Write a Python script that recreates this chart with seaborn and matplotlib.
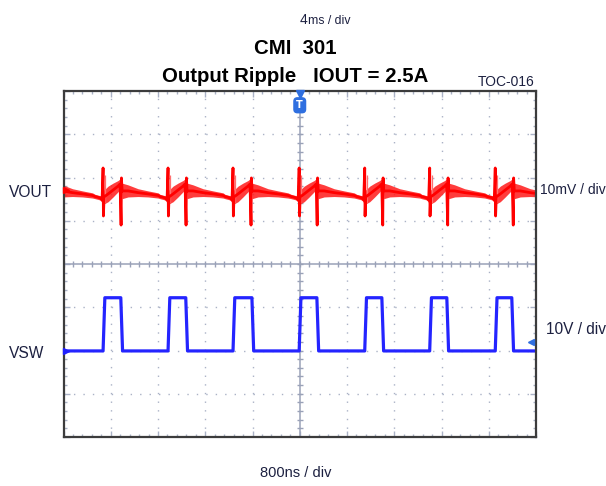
import numpy as np
import matplotlib
matplotlib.use("Agg")
import matplotlib.pyplot as plt
import seaborn as sns
from matplotlib import font_manager

# ---------------- data ----------------
TIME_PER_DIV_US = 0.8          # 800 ns / div
N_XDIV, N_YDIV = 10, 8

# switch node (VSW) edges, in microseconds from the left edge of the screen
VSW_RISE_US = [-0.44, 0.67, 1.77, 2.87, 3.99, 5.10, 6.20, 7.31]
VSW_FALL_US = [-0.13, 0.97, 2.07, 3.19, 4.29, 5.39, 6.49, 7.59]
VSW_LOW_V = 0.0
VSW_HIGH_V = 12.3
VSW_EDGE_US = 0.03
VSW_V_PER_DIV = 10.0
VSW_OFFSET_DIV = -2.01
TRIG_LEVEL_V = 2.0
TRIG_POS_US = 4.0

# output ripple (VOUT, AC) : one switching period relative to each rising edge
VOUT_MV_PER_DIV = 10.0
VOUT_OFFSET_DIV = 1.70
VOUT_OFFS_US = [-0.135, -0.051, -0.017, 0.000, 0.006, 0.017, 0.085, 0.169,
                0.254, 0.288, 0.305, 0.311, 0.322, 0.423, 0.593, 0.762, 0.931]
VOUT_MV = [-1.4, -1.7, -2.2, 5.2, -5.9, -1.5, -0.8, 0.1,
           1.0, 1.5, -8.0, 2.9, -0.1, -0.1, -0.5, -0.8, -1.15]
VOUT_NOISE_MV = [0.5, 0.5, 0.6, 0.0, 0.0, 1.6, 1.8, 1.6,
                 1.3, 1.2, 0.0, 0.0, 1.8, 1.4, 0.9, 0.7, 0.6]
# secondary (fainter) spike right after each rising edge
VOUT_SPIKE2_US = 0.035
VOUT_SPIKE2_MV = [3.6, -3.0]

TITLE_1 = "CMI  301"
TITLE_2 = "Output Ripple   IOUT = 2.5A"
TAG = "TOC-016"
CH1_NAME, CH1_SCALE = "VOUT", "10mV / div"
CH2_NAME, CH2_SCALE = "VSW", "10V / div"
TIMEBASE = "800ns / div"
TOP_SCALE_NUM, TOP_SCALE_UNIT = "4", "ms / div"

# ---------------- style ----------------
sns.set_theme(style="white")
W, H = 606, 486
fig = plt.figure(figsize=(W / 100, H / 100), dpi=100)
fig.patch.set_facecolor("white")

names = {f.name for f in font_manager.fontManager.ttflist}
if "Liberation Sans Narrow" in names:
    NARROW, NSCALE = "Liberation Sans Narrow", 1.0
else:
    NARROW, NSCALE = "Liberation Sans", 0.84
plt.rcParams["font.family"] = [NARROW, "DejaVu Sans"]

L, R, T, B = 63.5, 536.0, 91.0, 437.0
ax = fig.add_axes([L / W, 1 - B / H, (R - L) / W, (B - T) / H])
xmax = N_XDIV * TIME_PER_DIV_US
ax.set_xlim(0, xmax)
ax.set_ylim(-N_YDIV / 2, N_YDIV / 2)
ax.set_facecolor("white")

GRID = "#aab2c6"
CENTER = "#9aa2b8"
# dotted graticule
xdot_pt = (R - L) / N_XDIV / 5 * 0.72
ydot_pt = (B - T) / N_YDIV / 5 * 0.72
for k in range(1, N_XDIV):
    if k == N_XDIV // 2:
        continue
    ax.axvline(k * TIME_PER_DIV_US, color=GRID, lw=1.0,
               linestyle=(0, (1.0, ydot_pt - 1.0)), dash_capstyle="butt", zorder=1)
for k in range(-N_YDIV // 2 + 1, N_YDIV // 2):
    if k == 0:
        continue
    ax.axhline(k, color=GRID, lw=1.0,
               linestyle=(0, (1.0, xdot_pt - 1.0)), dash_capstyle="butt", zorder=1)
# centre cross with sub-division ticks
ax.axvline(xmax / 2, color=CENTER, lw=1.1, zorder=1)
ax.axhline(0, color=CENTER, lw=1.1, zorder=1)
ax.plot(np.full(N_YDIV * 5 + 1, xmax / 2), np.linspace(-N_YDIV / 2, N_YDIV / 2, N_YDIV * 5 + 1),
        ls="none", marker="_", ms=5, mew=1.0, color=CENTER, zorder=1)
ax.plot(np.linspace(0, xmax, N_XDIV * 5 + 1), np.zeros(N_XDIV * 5 + 1),
        ls="none", marker="|", ms=5, mew=1.0, color=CENTER, zorder=1)

ax.set_xticks(np.arange(0, xmax + 1e-9, TIME_PER_DIV_US))
ax.set_xticks(np.arange(0, xmax + 1e-9, TIME_PER_DIV_US / 5), minor=True)
ax.set_yticks(np.arange(-N_YDIV / 2, N_YDIV / 2 + 1e-9, 1))
ax.set_yticks(np.arange(-N_YDIV / 2, N_YDIV / 2 + 1e-9, 0.2), minor=True)
ax.tick_params(which="both", direction="in", top=True, right=True, bottom=True, left=True,
               labelbottom=False, labelleft=False, color=GRID)
ax.tick_params(which="major", length=4, width=1)
ax.tick_params(which="minor", length=2.5, width=1)
for s in ax.spines.values():
    s.set_color("#3c3c3c")
    s.set_linewidth(1.6)
    s.set_zorder(6)

# ---------------- traces ----------------
# VSW
t_sw, v_sw = [], []
for r, f in zip(VSW_RISE_US, VSW_FALL_US):
    t_sw += [r, r + VSW_EDGE_US, f, f + VSW_EDGE_US]
    v_sw += [VSW_LOW_V, VSW_HIGH_V, VSW_HIGH_V, VSW_LOW_V]
t_sw.append(xmax + 0.1)
v_sw.append(VSW_LOW_V)
y_sw = VSW_OFFSET_DIV + np.array(v_sw) / VSW_V_PER_DIV
sns.lineplot(x=np.array(t_sw), y=y_sw, ax=ax, color="#2424ff", linewidth=2.3,
             estimator=None, sort=False, errorbar=None, zorder=4)

# VOUT
t_o, m_o, n_o = [], [], []
for r in VSW_RISE_US:
    t_o += [r + o for o in VOUT_OFFS_US]
    m_o += VOUT_MV
    n_o += VOUT_NOISE_MV
t_o = np.array(t_o)
y_o = VOUT_OFFSET_DIV + np.array(m_o) / VOUT_MV_PER_DIV
n_o = np.array(n_o) / VOUT_MV_PER_DIV
ax.fill_between(t_o, y_o - n_o, y_o + n_o, color="#ff1a1a", alpha=0.85, lw=0, zorder=3)
sns.lineplot(x=t_o, y=y_o, ax=ax, color="#ff0000", linewidth=2.0,
             estimator=None, sort=False, errorbar=None, zorder=4)
for r in VSW_RISE_US:
    ax.vlines(r + VOUT_SPIKE2_US,
              VOUT_OFFSET_DIV + VOUT_SPIKE2_MV[1] / VOUT_MV_PER_DIV,
              VOUT_OFFSET_DIV + VOUT_SPIKE2_MV[0] / VOUT_MV_PER_DIV,
              color="#ff7070", lw=0.9, zorder=3)

# channel markers
ax.plot([0.05], [VOUT_OFFSET_DIV], marker=">", ms=5, color="#ff0000", clip_on=False, zorder=7)
ax.plot([0.05], [VSW_OFFSET_DIV], marker=">", ms=5, color="#1f1fff", clip_on=False, zorder=7)
ax.plot([xmax - 0.08], [VSW_OFFSET_DIV + TRIG_LEVEL_V / VSW_V_PER_DIV], marker="<", ms=5,
        color="#2f6fe0", clip_on=False, zorder=7)
ax.plot([TRIG_POS_US], [N_YDIV / 2 - 0.08], marker="v", ms=6, color="#2f6fe0", clip_on=False, zorder=7)
ax.text(TRIG_POS_US, N_YDIV / 2 - 0.33, "T", ha="center", va="center", color="white",
        fontsize=7, fontweight="bold", family=["DejaVu Sans"], zorder=8,
        bbox=dict(boxstyle="round,pad=0.25,rounding_size=0.35", fc="#2f6fe0", ec="#2f6fe0"))

# ---------------- texts ----------------
def ftxt(x, y, s, size, **kw):
    fam = kw.pop("family", [NARROW, "DejaVu Sans"])
    fig.text(x / W, 1 - y / H, s, fontsize=size, family=fam, **kw)

INK = "#1c2040"
ftxt(300, 23.5, TOP_SCALE_NUM, 12 * NSCALE, color=INK, ha="left", va="baseline")
ftxt(308, 23.5, TOP_SCALE_UNIT, 10.5 * NSCALE, color=INK, ha="left", va="baseline")
ftxt(295, 54.5, TITLE_1, 17.5 * NSCALE, color="black", fontweight="bold", ha="center", va="baseline")
ftxt(295, 82.5, TITLE_2, 17.5 * NSCALE, color="black", fontweight="bold", ha="center", va="baseline")
ftxt(478, 86, TAG, 10, color=INK, ha="left", va="baseline", family=["Liberation Sans", "DejaVu Sans"])
ftxt(9, 196.5, CH1_NAME, 13.3 * NSCALE, color=INK, ha="left", va="baseline")
ftxt(9, 357.5, CH2_NAME, 13.3 * NSCALE, color=INK, ha="left", va="baseline")
ftxt(540, 194.5, CH1_SCALE, 11.9 * NSCALE, color=INK, ha="left", va="baseline")
ftxt(546, 334.5, CH2_SCALE, 13.3 * NSCALE, color=INK, ha="left", va="baseline")
ftxt(296, 477, TIMEBASE, 12.5 * NSCALE, color=INK, ha="center", va="baseline")

fig.savefig("out.png", dpi=100, facecolor="white")
